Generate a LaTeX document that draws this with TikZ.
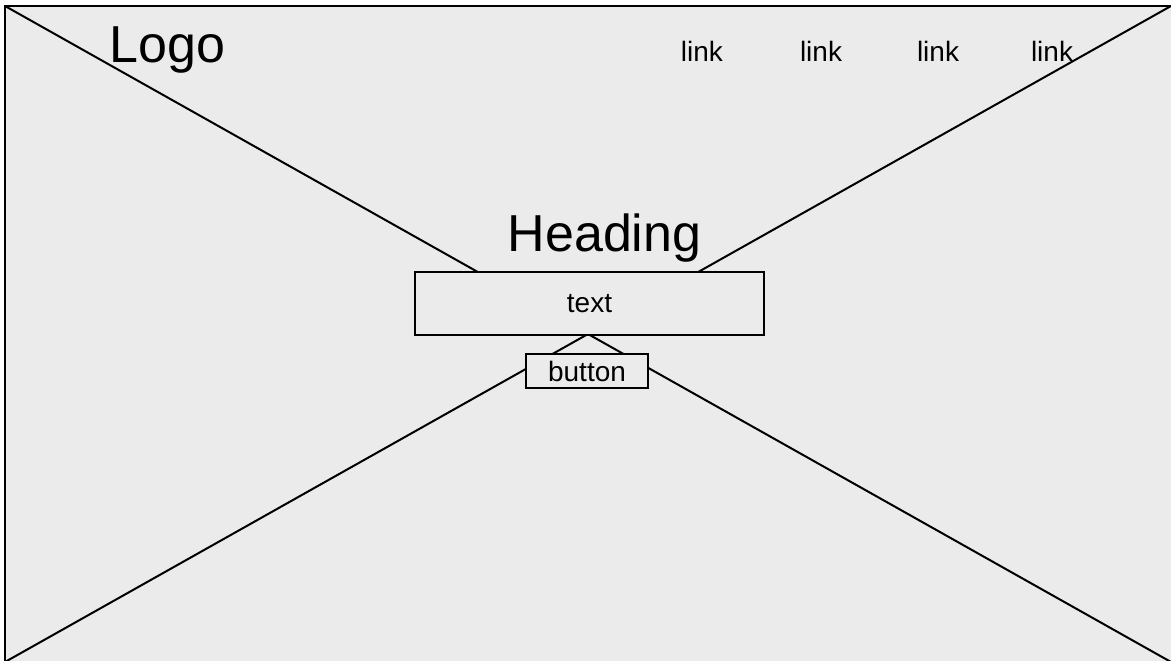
\documentclass[tikz,border=0pt]{standalone}
\usepackage{fontspec}
\setmainfont{Liberation Sans}
\definecolor{wirebg}{HTML}{EBEBEB}
\begin{document}
\begin{tikzpicture}[x=1pt,y=-1pt,
  frame/.style={draw=black,line width=1.6pt,fill=wirebg},
  cross/.style={draw=black,line width=2pt},
  wirebox/.style={draw=black,line width=1.6pt,fill=wirebg,inner sep=0pt,
    font=\fontsize{28}{32}\selectfont},
  big/.style={inner sep=0pt,anchor=base,font=\fontsize{52}{60}\selectfont},
  navlink/.style={inner sep=0pt,anchor=base,font=\fontsize{28}{32}\selectfont}]
  \useasboundingbox (0,0) rectangle (1171,661);
  \clip (0,0) rectangle (1171,661);
  % page frame (runs past the right and bottom edges) with the placeholder cross
  \coordinate (tl) at (5,6);
  \coordinate (tr) at (1171,6);
  \coordinate (bl) at (5,662);
  \coordinate (br) at (1171,662);
  \coordinate (outer) at (1185,675);
  \path[frame] (tl) rectangle (outer);
  \draw[cross] (tl) -- (br);
  \draw[cross] (bl) -- (tr);
  % header
  \node[big] (logo) at (167.5,63) {Logo};
  \node[navlink] (l1) at (702,62) {link};
  \node[navlink] (l2) at (821,62) {link};
  \node[navlink] (l3) at (938,62) {link};
  \node[navlink] (l4) at (1052,62) {link};
  % hero block
  \node[big] (heading) at (604.5,251) {Heading};
  \node[wirebox,minimum width=349pt,minimum height=63pt] (textbox) at (589.5,303.5) {text};
  \node[wirebox,minimum width=122pt,minimum height=34pt] (button) at (587,371) {button};
\end{tikzpicture}
\end{document}
